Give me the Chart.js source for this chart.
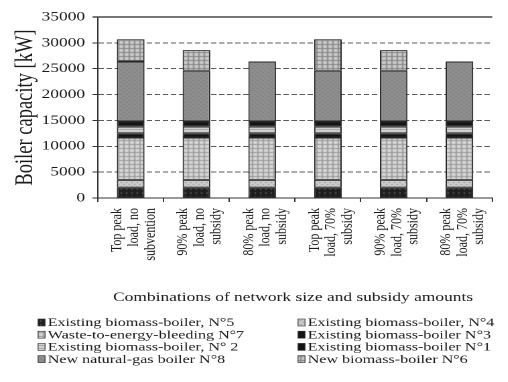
<!DOCTYPE html>
<html>
<head>
<meta charset="utf-8">
<script src="https://cdn.jsdelivr.net/npm/chart.js@4.4.1/dist/chart.umd.min.js"></script>
<style>
  html, body { margin: 0; padding: 0; background: #fff; width: 508px; height: 382px; overflow: hidden; }
  /* the figure is laid out on a narrow canvas and widened horizontally */
  #wrap { position: absolute; left: 0; top: 0; width: 386px; height: 382px; transform: scaleX(1.34); transform-origin: 0 0; }
</style>
</head>
<body>
<div id="wrap"><canvas id="chart" width="386" height="382"></canvas></div>
<script>
// Category labels (one array per rotated, multi-line label)
const categories = [
  ["Top peak", "load, no", "subvention"],
  ["90% peak", "load, no", "subsidy"],
  ["80% peak", "load, no", "subsidy"],
  ["Top peak", "load, 70%", "subsidy"],
  ["90% peak", "load, 70%", "subsidy"],
  ["80% peak", "load, 70%", "subsidy"]
];

// Installed boiler capacity per unit [kW], stacked bottom to top
const existingBiomass5 = [2000, 2000, 2000, 2000, 2000, 2000];
const existingBiomass4 = [1500, 1500, 1500, 1500, 1500, 1500];
const wasteToEnergy7   = [8200, 8200, 8200, 8200, 8200, 8200];
const existingBiomass3 = [800, 800, 800, 800, 800, 800];
const existingBiomass2 = [1300, 1300, 1300, 1300, 1300, 1300];
const existingBiomass1 = [1000, 1000, 1000, 1000, 1000, 1000];
const newNaturalGas8   = [11600, 9800, 11600, 9800, 9800, 11600];
const newBiomass6      = [4300, 4000, 0, 6100, 4000, 0];

const seriesLabels = [
  "Existing biomass-boiler, N°5",
  "Existing biomass-boiler, N°4",
  "Waste-to-energy-bleeding N°7",
  "Existing biomass-boiler N°3",
  "Existing biomass-boiler, N° 2",
  "Existing biomass-boiler N°1",
  "New natural-gas boiler N°8",
  "New biomass-boiler N°6"
];

const yAxisMin = 0, yAxisMax = 35000, yAxisStep = 5000;
const yTitle = "Boiler capacity [kW]";
const xTitle = "Combinations of network size and subsidy amounts";

const FONT = '"Liberation Serif", "Times New Roman", serif';
const INK = '#1a1a1a';

const canvas = document.getElementById('chart');
const ctx0 = canvas.getContext('2d');

// grayscale fill patterns for the stacked segments
function pattern(size, bg, fg, marks) {
  const c = document.createElement('canvas');
  c.width = c.height = size;
  const g = c.getContext('2d');
  g.fillStyle = bg; g.fillRect(0, 0, size, size);
  g.fillStyle = fg;
  marks.forEach(m => g.fillRect(m[0], m[1], m[2], m[3]));
  return ctx0.createPattern(c, 'repeat');
}

const fills = [
  pattern(4, '#1e1e1e', '#555555', [[2, 0, 1, 2]]),                 // N°5
  pattern(4, '#cccccc', '#8c8c8c', [[0, 0, 1, 1], [2, 2, 1, 1]]),   // N°4
  pattern(4, '#d6d6d6', '#9a9a9a', [[0, 0, 1, 4], [0, 0, 4, 1]]),   // N°7
  '#141414',                                                        // N°3
  pattern(3, '#d6d6d6', '#a0a0a0', [[0, 0, 3, 1]]),                 // N°2
  '#141414',                                                        // N°1
  pattern(4, '#8e8e8e', '#7a7a7a', [[0, 0, 1, 1], [2, 2, 1, 1]]),   // N°8
  pattern(4, '#cbcbcb', '#868686', [[0, 0, 1, 4], [0, 0, 4, 1]])    // N°6
];

const seriesValues = [existingBiomass5, existingBiomass4, wasteToEnergy7, existingBiomass3,
                      existingBiomass2, existingBiomass1, newNaturalGas8, newBiomass6];

const datasets = seriesValues.map((vals, i) => ({
  label: seriesLabels[i],
  data: vals,
  backgroundColor: fills[i],
  borderColor: '#262626',
  borderWidth: 1,
  borderSkipped: false,
  categoryPercentage: 1.0,
  barPercentage: 0.42
}));

// solid frame line along the top of the plot, axis title and two-column legend
const frameAndLegend = {
  id: 'frameAndLegend',
  afterDatasetsDraw(chart) {
    const { ctx, chartArea } = chart;
    ctx.save();
    ctx.strokeStyle = '#4a4a4a';
    ctx.lineWidth = 1.4;
    ctx.beginPath();
    ctx.moveTo(chartArea.left - 4, chartArea.top);
    ctx.lineTo(chartArea.right, chartArea.top);
    ctx.stroke();
    ctx.restore();
  },
  afterDraw(chart) {
    const { ctx } = chart;
    ctx.save();
    ctx.fillStyle = INK;
    ctx.font = '13px ' + FONT;
    ctx.textAlign = 'center';
    ctx.textBaseline = 'middle';
    ctx.fillText(xTitle, 218.7, 297.5);

    ctx.font = '12px ' + FONT;
    ctx.textAlign = 'left';
    chart.data.datasets.forEach((ds, i) => {
      const col = i % 2, row = Math.floor(i / 2);
      const bx = col ? 222.4 : 28.4;
      const cy = 322.5 + row * 12.2;
      ctx.fillStyle = ds.backgroundColor;
      ctx.fillRect(bx, cy - 3.5, 5.2, 7);
      ctx.strokeStyle = '#333';
      ctx.lineWidth = 0.6;
      ctx.strokeRect(bx, cy - 3.5, 5.2, 7);
      ctx.fillStyle = INK;
      ctx.fillText(ds.label, bx + 7.2, cy + 0.5);
    });
    ctx.restore();
  }
};

new Chart(canvas, {
  type: 'bar',
  data: { labels: categories, datasets },
  plugins: [frameAndLegend],
  options: {
    responsive: false,
    animation: false,
    devicePixelRatio: 2,
    events: [],
    layout: { padding: { left: 5, right: 1, top: 17, bottom: 0 } },
    plugins: {
      legend: { display: false },
      tooltip: { enabled: false },
      title: { display: false }
    },
    scales: {
      x: {
        stacked: true,
        afterFit(scale) { scale.height = 184; },
        grid: { offset: true, drawOnChartArea: false, drawTicks: true, tickLength: 4, color: '#333' },
        border: { display: true, color: '#333', width: 1 },
        ticks: {
          autoSkip: false,
          minRotation: 90,
          maxRotation: 90,
          padding: 6,
          labelOffset: -10,
          color: INK,
          font: { family: FONT, size: 12, lineHeight: 1.03 }
        }
      },
      y: {
        stacked: true,
        min: yAxisMin,
        max: yAxisMax,
        afterFit(scale) { scale.width = 68; },
        grid: { color: '#5a5a5a', lineWidth: 1, drawTicks: true, tickLength: 4, tickColor: '#333' },
        border: { display: true, color: '#333', width: 1, dash: [4, 2] },
        ticks: {
          stepSize: yAxisStep,
          padding: 5.5,
          color: INK,
          font: { family: FONT, size: 13 },
          callback: v => String(v)
        },
        title: {
          display: true,
          text: yTitle,
          color: INK,
          padding: { top: 3, bottom: 0 },
          font: { family: FONT, size: 18.5 }
        }
      }
    }
  }
});
</script>
</body>
</html>
